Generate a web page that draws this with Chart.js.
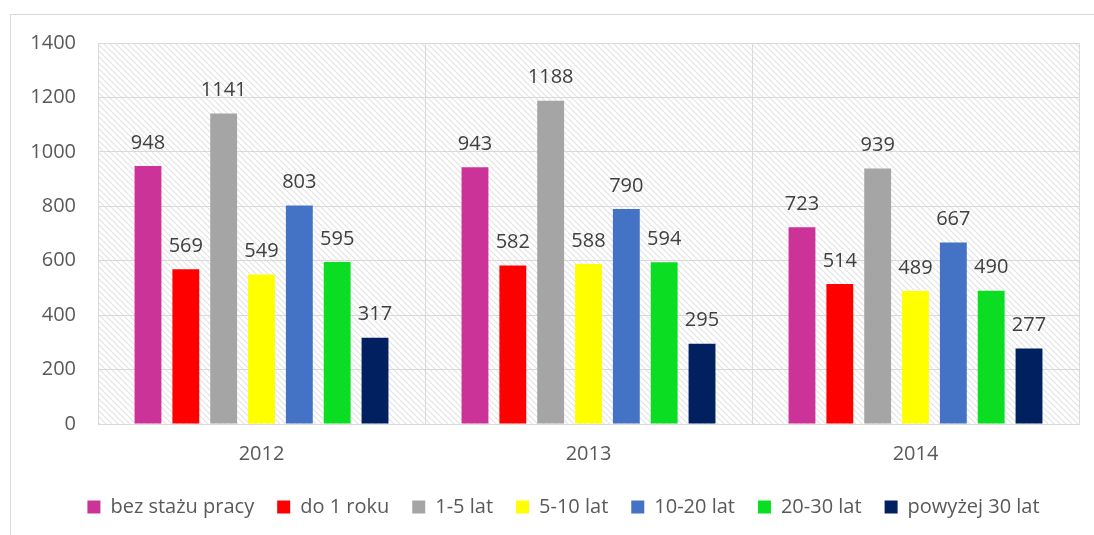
<!DOCTYPE html>
<html>
<head>
<meta charset="utf-8">
<script src="https://cdn.jsdelivr.net/npm/chart.js@4/dist/chart.umd.min.js"></script>
<style>
  html, body { margin: 0; padding: 0; background: #fff; }
  #wrap { position: relative; width: 1094px; height: 535px; }
</style>
</head>
<body>
<div id="wrap"><canvas id="barChart" width="1094" height="535"></canvas></div>
<script>
// dane
const years = ['2012', '2013', '2014'];
const seriesNames = ['bez stażu pracy', 'do 1 roku', '1-5 lat', '5-10 lat', '10-20 lat', '20-30 lat', 'powyżej 30 lat'];
const seriesColors = ['#CC3399', '#FF0000', '#A5A5A5', '#FFFF00', '#4472C4', '#0BDD22', '#002060'];
const bezStazu = [948, 943, 723];
const do1Roku = [569, 582, 514];
const lat1do5 = [1141, 1188, 939];
const lat5do10 = [549, 588, 489];
const lat10do20 = [803, 790, 667];
const lat20do30 = [595, 594, 490];
const powyzej30 = [317, 295, 277];
const yTicks = [0, 200, 400, 600, 800, 1000, 1200, 1400];

const seriesValues = [bezStazu, do1Roku, lat1do5, lat5do10, lat10do20, lat20do30, powyzej30];

const FONT = '"Open Sans", sans-serif';

function makeHatch() {
    const c = document.createElement('canvas');
    c.width = 6; c.height = 6;
    const g = c.getContext('2d');
    g.fillStyle = '#ffffff';
    g.fillRect(0, 0, 6, 6);
    g.strokeStyle = '#e3e3e3';
    g.lineWidth = 1.2;
    g.beginPath();
    g.moveTo(-1, -1); g.lineTo(7, 7);
    g.moveTo(-7, -1); g.lineTo(1, 7);
    g.moveTo(5, -1); g.lineTo(13, 7);
    g.stroke();
    return c;
}

const backgroundPlugin = {
    id: 'hatchBg',
    afterLayout(chart) {
        // legenda wyśrodkowana względem obszaru od 48px (jak w oryginale)
        if (chart.legend) chart.legend.left += 48;
    },
    beforeDraw(chart) {
        const ctx = chart.ctx;
        const a = chart.chartArea;
        ctx.save();
        ctx.fillStyle = '#fff';
        ctx.fillRect(0, 0, chart.width, chart.height);
        ctx.strokeStyle = '#d9d9d9';
        ctx.lineWidth = 1;
        ctx.strokeRect(10.5, 14.5, 1090, 530);
        ctx.fillStyle = ctx.createPattern(makeHatch(), 'repeat');
        ctx.fillRect(a.left, a.top, a.right - a.left, a.bottom - a.top);
        ctx.restore();
    }
};

const valueLabels = {
    id: 'valueLabels',
    afterDatasetsDraw(chart) {
        const ctx = chart.ctx;
        ctx.save();
        ctx.font = '20px ' + FONT;
        ctx.fillStyle = '#404040';
        ctx.textAlign = 'center';
        ctx.textBaseline = 'bottom';
        chart.data.datasets.forEach((ds, i) => {
            chart.getDatasetMeta(i).data.forEach((bar, j) => {
                ctx.fillText(String(ds.data[j]), bar.x, bar.y - 13);
            });
        });
        ctx.restore();
    }
};

const datasets = seriesNames.map((name, i) => ({
    label: name,
    data: seriesValues[i],
    backgroundColor: seriesColors[i],
    borderWidth: 0,
    barPercentage: 0.71,
    categoryPercentage: 0.81
}));

window.chart = new Chart(document.getElementById('barChart').getContext('2d'), {
    type: 'bar',
    data: { labels: years, datasets: datasets },
    plugins: [backgroundPlugin, valueLabels],
    options: {
        responsive: false,
        animation: false,
        layout: { padding: { top: 43, right: 15, bottom: 8, left: 0 } },
        plugins: {
            legend: {
                position: 'bottom',
                labels: {
                    boxWidth: 13,
                    boxHeight: 13,
                    padding: 23,
                    color: '#595959',
                    font: { size: 20, family: FONT }
                }
            },
            tooltip: { enabled: false }
        },
        scales: {
            x: {
                grid: { display: true, color: '#d9d9d9', offset: true, drawTicks: false, lineWidth: 1 },
                border: { color: '#d9d9d9' },
                ticks: { color: '#595959', padding: 18, font: { size: 20, family: FONT } },
                afterFit(scale) { scale.height = 50; }
            },
            y: {
                min: 0,
                max: 1400,
                afterBuildTicks(scale) { scale.ticks = yTicks.map(v => ({ value: v })); },
                grid: { color: '#d9d9d9', drawTicks: false, lineWidth: 1 },
                border: { display: false },
                ticks: {
                    color: '#595959', padding: 22, font: { size: 20, family: FONT },
                    callback: v => String(v)
                },
                afterFit(scale) { scale.width = 98; }
            }
        }
    }
});
</script>
</body>
</html>
